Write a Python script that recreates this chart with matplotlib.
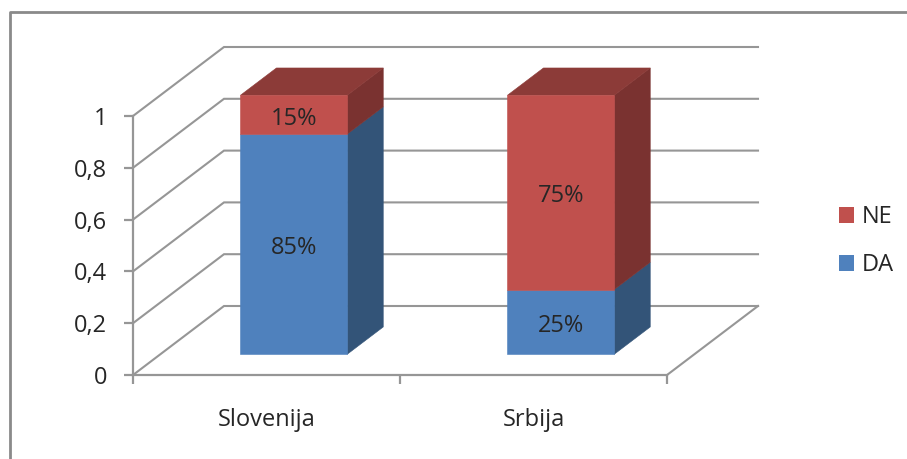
import matplotlib
matplotlib.use('Agg')
import matplotlib.pyplot as plt
from matplotlib.lines import Line2D
from matplotlib.patches import Patch, Polygon

categories = ['Slovenija', 'Srbija']
da_values = [0.85, 0.25]
ne_values = [0.15, 0.75]
da_labels = ['85%', '25%']
ne_labels = ['15%', '75%']
y_ticks = [0, 0.2, 0.4, 0.6, 0.8, 1]
y_tick_labels = ['0', '0,2', '0,4', '0,6', '0,8', '1']

W, H = 907, 459
X0, Y0 = 133, 375       # pixel position of the front origin
PX_CAT, PX_VAL = 267, 259
DEPTH_X, DEPTH_Y = 91 / PX_CAT, 69 / PX_VAL

BLUE = ('#4f81bd', '#335478')
RED = ('#c0504d', '#7a3230', '#8c3b38')
GRID = '#969696'
TEXT = '#262626'
FONT = 'Open Sans'
FS = 17

plt.rcParams['font.family'] = FONT


def project(x, v, d):
    return x + d * DEPTH_X, v + d * DEPTH_Y


fig = plt.figure(figsize=(W / 100, H / 100), dpi=100, facecolor='white')
ax = fig.add_axes([0, 0, 1, 1])
ax.set_xlim(-X0 / PX_CAT, (W - X0) / PX_CAT)
ax.set_ylim((Y0 - H) / PX_VAL, Y0 / PX_VAL)
ax.patch.set_visible(False)

# axes
for side in ['top', 'right']:
    ax.spines[side].set_visible(False)
for side in ['left', 'bottom']:
    ax.spines[side].set_color(GRID)
    ax.spines[side].set_linewidth(1.6)
ax.spines['left'].set_position(('data', 0))
ax.spines['left'].set_bounds(0, 1)
ax.spines['bottom'].set_position(('data', 0))
ax.spines['bottom'].set_bounds(0, 2)

ax.set_yticks(y_ticks)
ax.set_yticklabels(y_tick_labels)
ax.set_xticks([0, 1, 2])
ax.set_xticklabels([])
ax.set_xticks([0.5, 1.5], minor=True)
ax.set_xticklabels(categories, minor=True)
ax.tick_params(axis='y', length=6.5, width=1.6, color=GRID, labelsize=FS, labelcolor=TEXT, pad=12)
ax.tick_params(axis='x', which='major', length=6.5, width=1.6, color=GRID)
ax.tick_params(axis='x', which='minor', length=0, labelsize=FS, labelcolor=TEXT, pad=23.5)

# side wall and back wall gridlines
for v in y_ticks:
    x1, y1 = project(0, v, 1)
    x2, y2 = project(2, v, 1)
    ax.plot([0, x1, x2], [v, y1, y2], color=GRID, lw=1.5, zorder=1, solid_joinstyle='miter')
x1, y1 = project(2, 0, 1)
ax.plot([2, x1], [0, y1], color=GRID, lw=1.5, zorder=1)

# stacked bars in oblique projection
bar_w = 0.4
d0, d1 = 0.30, 0.696
for i, cat in enumerate(categories):
    left = i + 0.5 - bar_w / 2
    right = i + 0.5 + bar_w / 2
    bottom = 0
    segments = [(da_values[i], BLUE, da_labels[i]), (ne_values[i], RED, ne_labels[i])]
    for val, cols, lab in segments:
        top = bottom + val
        front = [project(left, bottom, d0), project(right, bottom, d0),
                 project(right, top, d0), project(left, top, d0)]
        side = [project(right, bottom, d0), project(right, bottom, d1),
                project(right, top, d1), project(right, top, d0)]
        ax.add_patch(Polygon(side, closed=True, fc=cols[1], ec=cols[1], lw=0.4, zorder=3))
        ax.add_patch(Polygon(front, closed=True, fc=cols[0], ec=cols[0], lw=0.4, zorder=4))
        tx, ty = project(i + 0.5, bottom + val / 2, d0)
        ax.annotate(lab, (tx, ty), xytext=(0, -2.8), textcoords='offset points',
                    ha='center', va='center', fontsize=FS, color=TEXT, zorder=5)
        bottom = top
    roof = [project(left, bottom, d0), project(right, bottom, d0),
            project(right, bottom, d1), project(left, bottom, d1)]
    ax.add_patch(Polygon(roof, closed=True, fc=RED[2], ec=RED[2], lw=0.4, zorder=3))

handles = [Patch(fc=RED[0], ec='none', label='NE'), Patch(fc=BLUE[0], ec='none', label='DA')]
ax.legend(handles=handles, loc='upper left', bbox_to_anchor=(832 / W, 1 - 198 / H), frameon=False,
          handlelength=0.64, handleheight=0.64, handletextpad=0.3, labelspacing=1.03,
          fontsize=FS, labelcolor=TEXT, borderpad=0.3, borderaxespad=0)

# outer frame, cut off by the image edge on the right and bottom
frame_x = 9.5 / W
frame_y = 1 - 11.5 / H
fig.add_artist(Line2D([frame_x, frame_x, 1], [0, frame_y, frame_y], color='#8a8a8a', lw=2))

fig.savefig('out.png', dpi=100)
